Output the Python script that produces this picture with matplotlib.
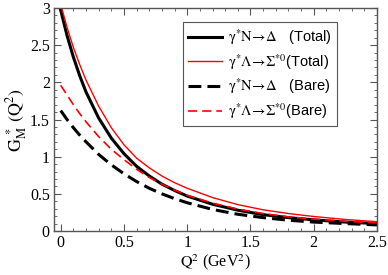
import matplotlib
matplotlib.use("Agg")
import matplotlib.pyplot as plt
from matplotlib.ticker import MultipleLocator

plt.rcParams['font.family'] = ['Liberation Serif', 'DejaVu Serif']
plt.rcParams['mathtext.fontset'] = 'stix'
plt.rcParams['mathtext.default'] = 'rm'

q2 = [0.0, 0.05, 0.1, 0.15, 0.2, 0.3, 0.4, 0.5, 0.6, 0.7, 0.8, 0.9, 1.0,
      1.2, 1.4, 1.6, 1.8, 2.0, 2.25, 2.5]

n_delta_total = [2.97, 2.63, 2.34, 2.09, 1.87, 1.52, 1.25, 1.04, 0.87, 0.74,
                 0.63, 0.545, 0.47, 0.36, 0.28, 0.22, 0.18, 0.15, 0.12, 0.10]
lam_sigma_total = [3.05, 2.74, 2.47, 2.24, 2.03, 1.68, 1.39, 1.16, 0.98, 0.85,
                   0.74, 0.65, 0.575, 0.45, 0.355, 0.285, 0.235, 0.195, 0.155, 0.125]
n_delta_bare = [1.62, 1.50, 1.39, 1.29, 1.20, 1.03, 0.89, 0.77, 0.665, 0.575,
                0.50, 0.435, 0.38, 0.29, 0.225, 0.18, 0.145, 0.12, 0.10, 0.082]
lam_sigma_bare = [1.96, 1.83, 1.70, 1.58, 1.47, 1.27, 1.10, 0.96, 0.83, 0.72,
                  0.63, 0.55, 0.48, 0.375, 0.295, 0.235, 0.19, 0.16, 0.13, 0.11]

labels = [r"$\gamma^{*}\mathrm{N}\!\rightarrow\!\Delta$   (Total)",
          r"$\gamma^{*}\Lambda\!\rightarrow\!\Sigma^{*0}$(Total)",
          r"$\gamma^{*}\mathrm{N}\!\rightarrow\!\Delta$   (Bare)",
          r"$\gamma^{*}\Lambda\!\rightarrow\!\Sigma^{*0}$(Bare)"]

fig = plt.figure(figsize=(3.88, 2.75), dpi=100)
ax = fig.add_axes([54/388, 1-231/275, (377-54)/388, (231-8)/275])

ax.plot(q2, n_delta_total, color='black', lw=2.2, label=labels[0])
ax.plot(q2, lam_sigma_total, color='red', lw=1.0, label=labels[1])
ax.plot(q2, n_delta_bare, color='black', lw=2.2, ls=(0, (4.2, 2.0)), label=labels[2])
ax.plot(q2, lam_sigma_bare, color='red', lw=1.2, ls=(0, (5.5, 3)), label=labels[3])

ax.set_xlim(-0.053, 2.5)
ax.set_ylim(0, 3)
ax.xaxis.set_minor_locator(MultipleLocator(0.1))
ax.yaxis.set_minor_locator(MultipleLocator(0.1))
ax.set_xticks([0, 0.5, 1, 1.5, 2, 2.5])
ax.set_xticklabels(['0', '0.5', '1', '1.5', '2', '2.5'])
ax.set_yticks([0, 0.5, 1, 1.5, 2, 2.5, 3])
ax.set_yticklabels(['0', '0.5', '1', '1.5', '2', '2.5', '3'])
ax.tick_params(which='both', direction='in', top=True, right=True,
               color='#555555', labelsize=11.5)
ax.tick_params(which='major', length=5, width=0.8, pad=3)
ax.tick_params(which='minor', length=2.5, width=0.6)
for s in ax.spines.values():
    s.set_color('#555555')
    s.set_linewidth(1.0)

ax.set_xlabel(r"$\mathrm{Q}^{2}$ (GeV$^{2}$)", fontsize=11.5, labelpad=1)
ax.set_ylabel(r"$\mathrm{G}_{\mathrm{M}}^{\ *}\ (\mathrm{Q}^{2})$", fontsize=12.8, labelpad=1)

leg = ax.legend(loc='upper left', bbox_to_anchor=(0.40, 0.937),
                prop={'family': 'Liberation Sans', 'size': 10.5},
                handlelength=2.3, handletextpad=0.4, labelspacing=0.36,
                borderpad=0.35, borderaxespad=0, fancybox=False, framealpha=1)
leg.get_frame().set_edgecolor('#555555')
leg.get_frame().set_linewidth(0.8)

fig.savefig('out.png', dpi=100)
